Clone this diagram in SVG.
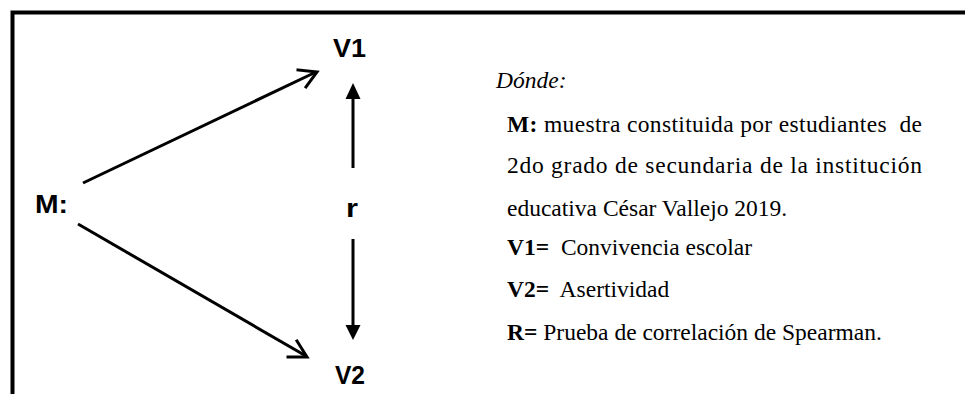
<svg xmlns="http://www.w3.org/2000/svg" width="965" height="394" viewBox="0 0 965 394">
<style>
.lbl{font-family:"Liberation Sans",Arial,sans-serif;font-weight:bold;font-size:26px;fill:#000}
.t{font-family:"Liberation Serif","Times New Roman",serif;font-size:23.5px;fill:#000}
.b{font-weight:bold}
.ln{stroke:#000;stroke-width:3;fill:none}
.open{stroke:#000;stroke-width:3;fill:none;stroke-linecap:square}
</style>
<rect width="965" height="394" fill="#fff"/>
<g id="frame">
<path d="M12.5 394 V12.5 H965" stroke="#000" stroke-width="4" fill="none"/>
</g>
<g id="connectors">
<line class="ln" x1="83" y1="183" x2="316" y2="72"/>
<polyline class="open" points="298,70 317,72 306,87"/>
<line class="ln" x1="78" y1="224" x2="306" y2="356"/>
<polyline class="open" points="297,341 307,357 288,357"/>
<line class="ln" x1="353" y1="168" x2="353" y2="97"/>
<polygon points="353,83 345.5,99 360.5,99" fill="#000"/>
<line class="ln" x1="353" y1="239" x2="353" y2="327"/>
<polygon points="353,340 345.5,325 360.5,325" fill="#000"/>
</g>
<g id="node-M"><text class="lbl" x="35" y="213" textLength="33" lengthAdjust="spacingAndGlyphs">M:</text></g>
<g id="node-V1"><text class="lbl" x="333" y="57" textLength="33" lengthAdjust="spacingAndGlyphs">V1</text></g>
<g id="node-r"><text class="lbl" x="346" y="217" textLength="12" lengthAdjust="spacingAndGlyphs">r</text></g>
<g id="node-V2"><text class="lbl" x="335" y="384" textLength="30" lengthAdjust="spacingAndGlyphs">V2</text></g>
<g id="legend">
<text class="t" x="496" y="88" font-style="italic">Dónde:</text>
<text class="t" x="507" y="132" textLength="415" lengthAdjust="spacing" xml:space="preserve"><tspan class="b">M:</tspan> muestra constituida por estudiantes  de</text>
<text class="t" x="507" y="173" textLength="415" lengthAdjust="spacing">2do grado de secundaria de la institución</text>
<text class="t" x="507" y="216">educativa César Vallejo 2019.</text>
<text class="t" x="507" y="255" xml:space="preserve"><tspan class="b">V1=</tspan>  Convivencia escolar</text>
<text class="t" x="507" y="297" xml:space="preserve"><tspan class="b">V2=</tspan>  Asertividad</text>
<text class="t" x="507" y="340"><tspan class="b">R=</tspan> Prueba de correlación de Spearman.</text>
</g>
</svg>
